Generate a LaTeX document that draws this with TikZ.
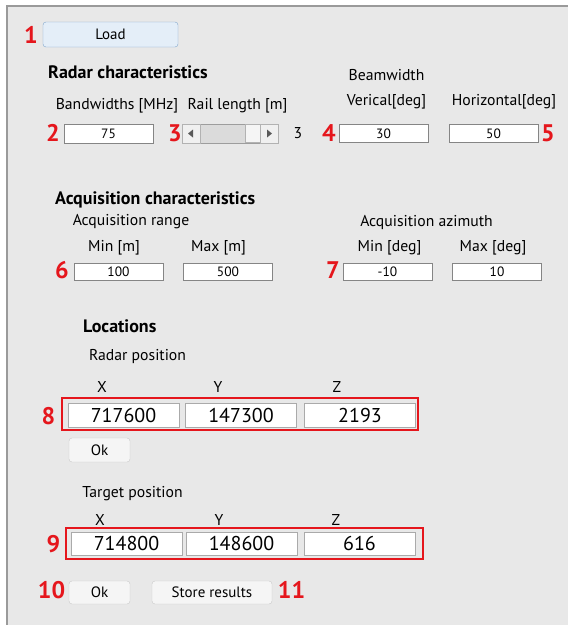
\documentclass[tikz,border=0pt]{standalone}
\usepackage{fontspec}
\setmainfont{PT Sans}
\usetikzlibrary{positioning}
\definecolor{panel}{HTML}{E8E8E8}
\definecolor{framegray}{HTML}{9A9A9A}
\definecolor{fieldgray}{HTML}{858585}
\definecolor{btngray}{HTML}{C9C9C9}
\definecolor{btnfill}{HTML}{F5F5F5}
\definecolor{loadfill}{HTML}{E4EEF8}
\definecolor{loadline}{HTML}{7FA6CC}
\definecolor{markred}{HTML}{E5161C}
\tikzset{
  lbl/.style={inner sep=0pt, font=\fontsize{15.7}{15.7}\selectfont},
  head/.style={inner sep=0pt, anchor=west, font=\fontsize{18}{18}\selectfont\bfseries},
  field/.style={draw=fieldgray, fill=white, inner sep=0pt, minimum width=89, minimum height=18,
    font=\fontsize{13.5}{13.5}\selectfont},
  bigfield/.style={draw=fieldgray!70, fill=white, inner sep=0pt, minimum width=111, minimum height=24,
    font=\fontsize{20}{20}\selectfont},
  btn/.style={draw=btngray, fill=btnfill, rounded corners=3pt, inner sep=0pt, minimum height=24,
    font=\fontsize{15}{15}\selectfont},
  num/.style={text=markred, inner sep=0pt, font=\fontsize{24}{24}\selectfont\bfseries},
  redbox/.style={draw=markred, line width=1.5},
}
\begin{document}
\begin{tikzpicture}[x=1pt,y=-1pt]
  \useasboundingbox (0,0) rectangle (568,625);
  \fill[white] (0,0) rectangle (568,625);
  \fill[panel] (7,6) rectangle (568,625);
  \draw[framegray, line width=2] (7,625) -- (7,6) -- (568,6);

  % radar characteristics
  \node[btn, draw=loadline, fill=loadfill, minimum width=135, minimum height=25] (load) at (110.5,34.5) {Load};
  \node[head] (radarhead) at (48,72) {Radar characteristics};
  \node[lbl] (bwlbl) at (117,106) {Bandwidths [MHz]};
  \node[lbl] (raillbl) at (237.5,106) {Rail length [m]};
  \node[lbl] (beamlbl) at (386.5,75) {Beamwidth};
  \node[lbl] (vertlbl) at (386.5,102) {Verical[deg]};
  \node[lbl] (horzlbl) at (504,102) {Horizontal[deg]};
  \node[field, minimum height=19] (bw) at (108.5,133.5) {75};
  \node[field] (vert) at (383.5,133.5) {30};
  \node[field] (horz) at (493.5,133.5) {50};

  % rail length slider
  \draw[fieldgray!80, fill=gray!22] (182,124) rectangle (278,143);
  \fill[gray!28] (200,124.5) rectangle (245,142.5);
  \draw[gray!60, fill=gray!8] (245,124.5) rectangle (260,142.5);
  \draw[gray!60, fill=gray!12] (182,124) rectangle (200,143);
  \draw[gray!60, fill=gray!12] (260,124) rectangle (278,143);
  \fill[gray!70!black] (188,133.5) -- (193,129.5) -- (193,137.5) -- cycle;
  \fill[gray!70!black] (272,133.5) -- (267,129.5) -- (267,137.5) -- cycle;
  \node[lbl] (railval) at (298,133) {3};

  % acquisition characteristics
  \node[head] (acqhead) at (55,200) {Acquisition characteristics};
  \node[lbl] (rangelbl) at (131,222) {Acquisition range};
  \node[lbl] (azimlbl) at (426.5,222) {Acquisition azimuth};
  \foreach \nm/\x/\t in {rminlbl/114/Min [m], rmaxlbl/218.5/Max [m], aminlbl/389.5/Min [deg], amaxlbl/493/Max [deg]}
    \node[lbl] (\nm) at (\x,248) {\t};
  \foreach \nm/\x/\v in {rmin/118.5/100, rmax/228/500, amin/387.5/-10, amax/497/10}
    \node[field, minimum height=17] (\nm) at (\x,271.5) {\v};

  % locations
  \node[head] (lochead) at (83,326) {Locations};
  \node[lbl] (radarpos) at (137.5,357) {Radar position};
  \node[lbl] (targetpos) at (132.5,494) {Target position};
  \foreach \nm/\x/\t in {rxl/102/X, ryl/218/Y, rzl/337/Z}
    \node[lbl] (\nm) at (\x,387) {\t};
  \foreach \nm/\x/\t in {txl/100/X, tyl/219/Y, tzl/336/Z}
    \node[lbl] (\nm) at (\x,520) {\t};
  \foreach \nm/\x/\v in {rx/123.5/717600, ry/241/147300, rz/360/2193}
    \node[bigfield] (\nm) at (\x,415) {\v};
  \foreach \nm/\x/\v in {tx/126.5/714800, ty/241.5/148600, tz/359.5/616}
    \node[bigfield, minimum height=23] (\nm) at (\x,543.5) {\v};
  \draw[redbox] (62,398) rectangle (418,430);
  \draw[redbox] (66,528) rectangle (423,559);
  \node[btn, minimum width=61] (okradar) at (99.5,450) {Ok};
  \node[btn, minimum width=61, minimum height=23] (oktarget) at (99.5,592.5) {Ok};
  \node[btn, minimum width=120, minimum height=23] (store) at (212,592.5) {Store results};

  % red markers
  \foreach \nm/\x/\y/\n in {m1/31/35/1, m2/53/133/2, m3/175/133/3, m4/329/133/4, m5/548/133/5,
      m6/62/270/6, m7/333/270/7, m8/48.5/416/8, m9/53.5/544/9, m10/51.5/590/10, m11/291.5/590/11}
    \node[num] (\nm) at (\x,\y) {\n};
\end{tikzpicture}
\end{document}
